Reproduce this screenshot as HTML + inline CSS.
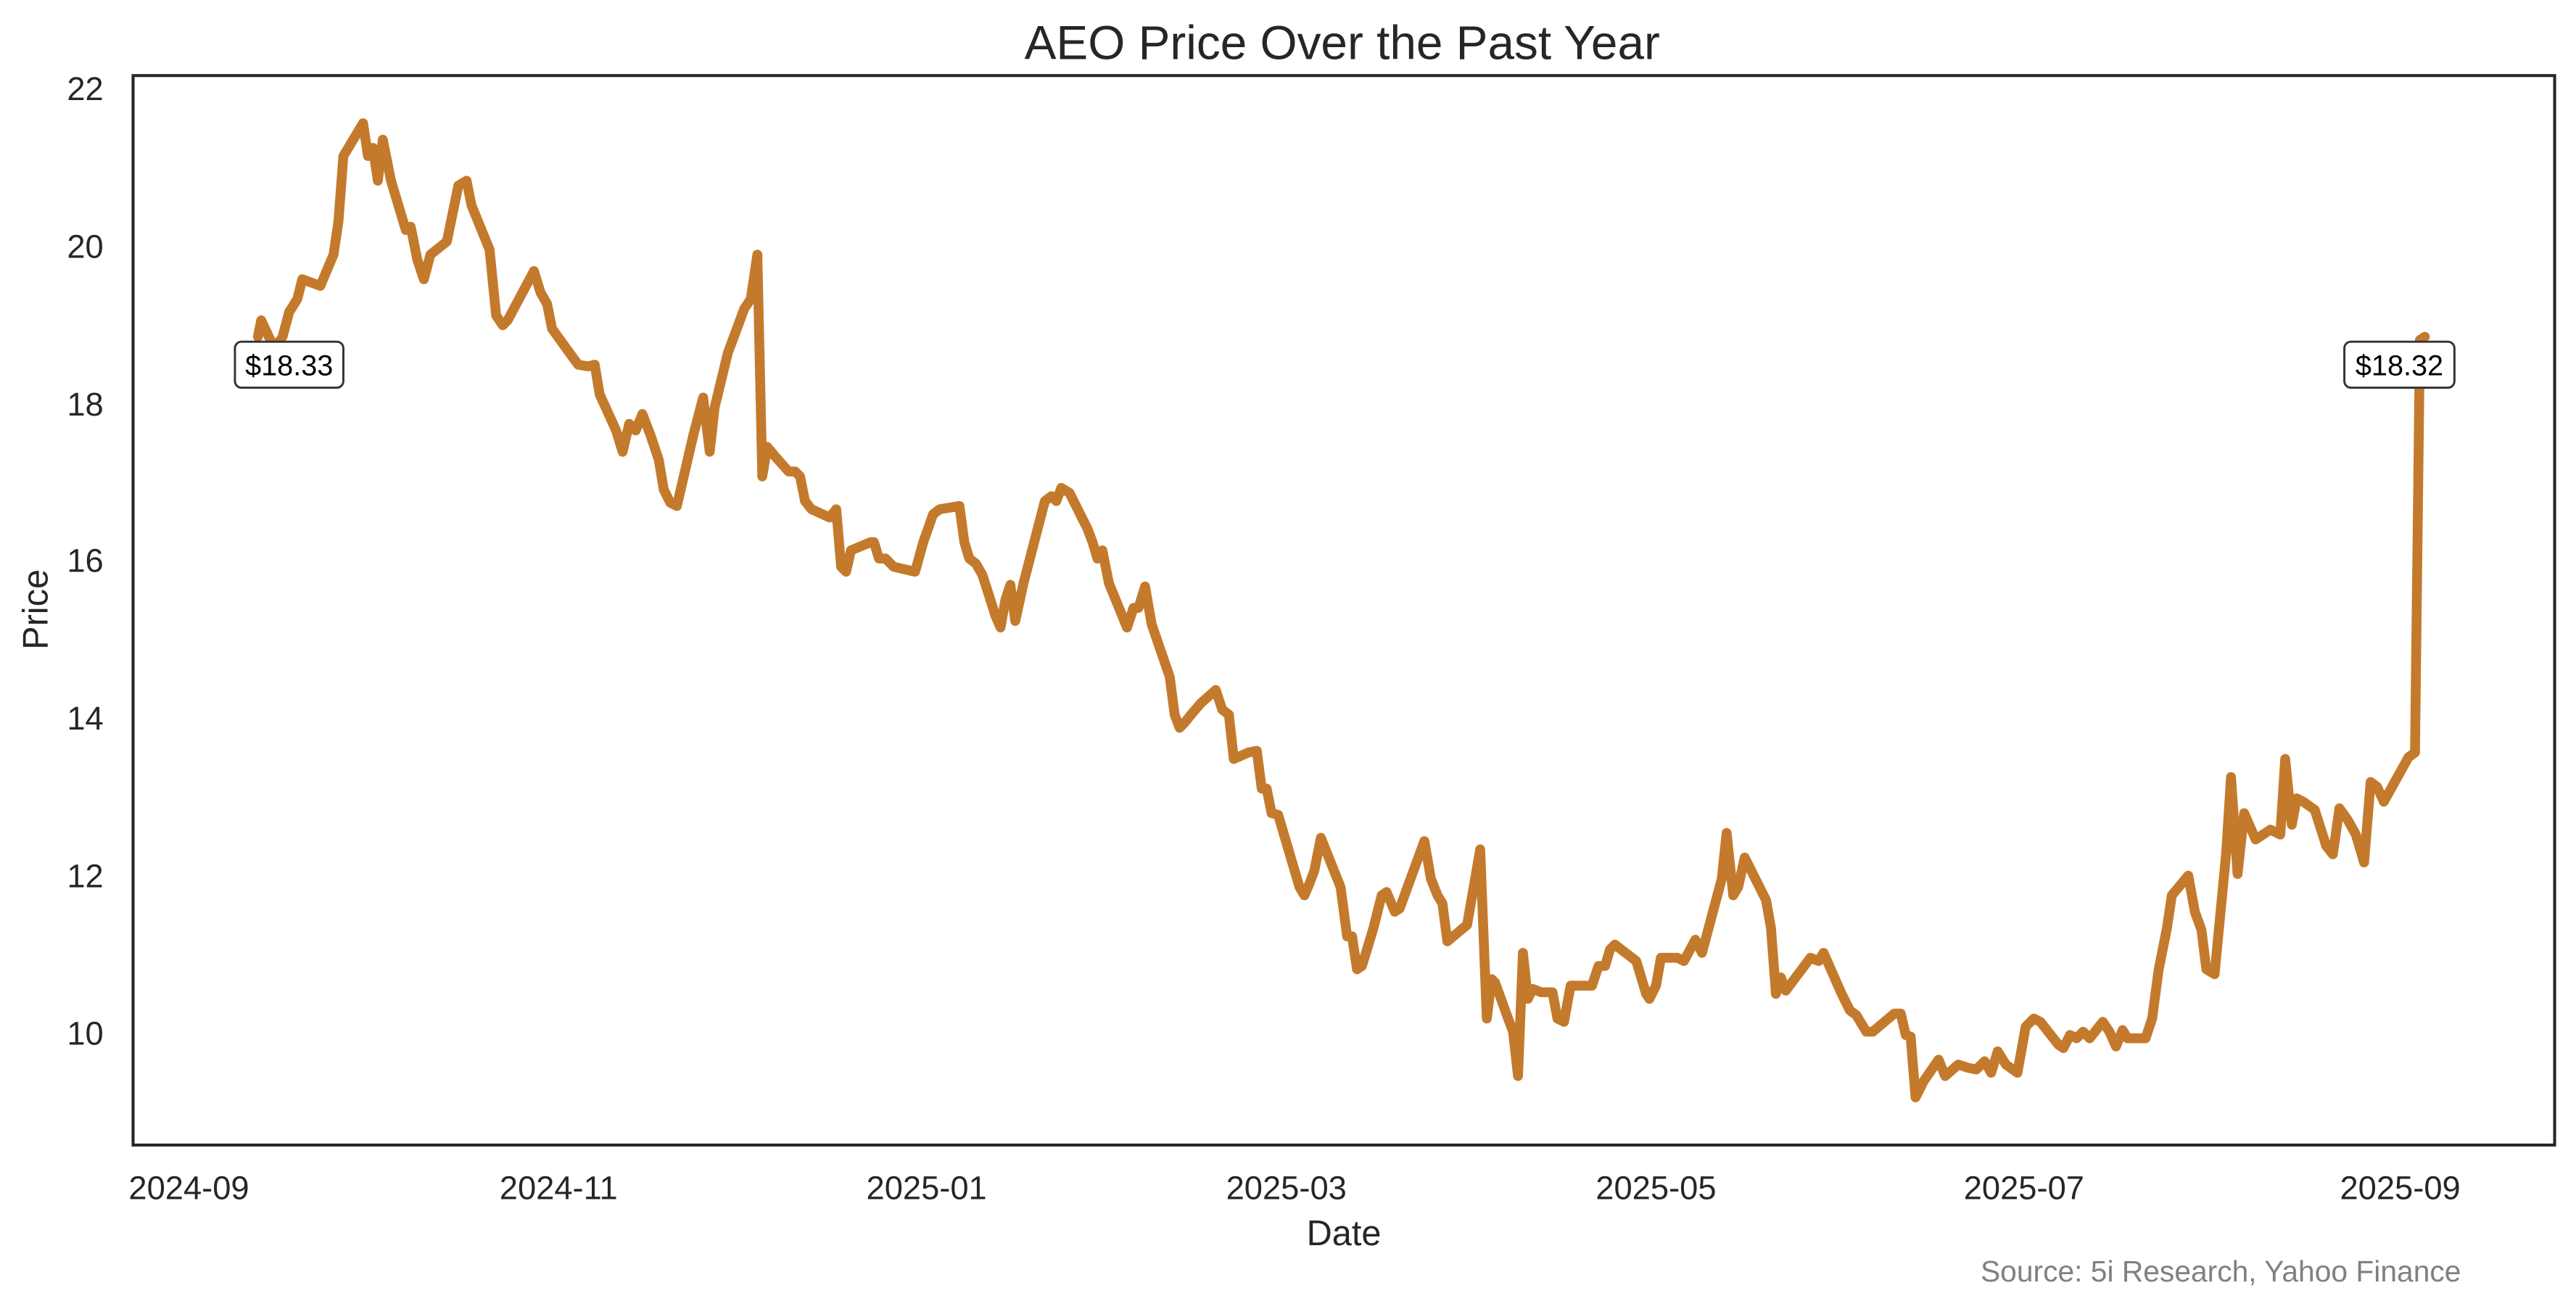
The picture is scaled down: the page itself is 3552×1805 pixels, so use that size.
<!DOCTYPE html>
<html><head><meta charset="utf-8"><style>
html,body{margin:0;padding:0;background:#fff;}
svg{display:block;}
text{font-family:"Liberation Sans",Arial,sans-serif;}
</style></head><body>
<svg width="3552" height="1805" viewBox="0 0 1568 796.8" xmlns="http://www.w3.org/2000/svg">
<rect width="1568" height="797" fill="#fff"/>
<text x="817" y="36" font-size="29" text-anchor="middle" fill="#262626">AEO Price Over the Past Year</text>
<g font-size="20" fill="#262626" text-anchor="end">
<text x="63" y="636">10</text>
<text x="63" y="540">12</text>
<text x="63" y="444">14</text>
<text x="63" y="348">16</text>
<text x="63" y="253">18</text>
<text x="63" y="157">20</text>
<text x="63" y="61">22</text>
</g>
<g font-size="20" fill="#262626" text-anchor="middle">
<text x="115" y="730">2024-09</text>
<text x="340" y="730">2024-11</text>
<text x="564" y="730">2025-01</text>
<text x="783" y="730">2025-03</text>
<text x="1008" y="730">2025-05</text>
<text x="1232" y="730">2025-07</text>
<text x="1461" y="730">2025-09</text>
</g>
<text x="818" y="758" font-size="21.5" text-anchor="middle" fill="#262626">Date</text>
<text x="29" y="371" font-size="21.5" text-anchor="middle" fill="#262626" transform="rotate(-90 29 371)">Price</text>
<text x="1498" y="780" font-size="18" text-anchor="end" fill="#808080">Source: 5i Research, Yahoo Finance</text>
<polyline fill="none" stroke="#c47a2c" stroke-width="6" stroke-linejoin="round" stroke-linecap="round" points="157,205 159,195 166,210 170,208 172,205 176,190 181,182 184,170 195,174 203,155 206,135 209,95 221,75 224,95 227,90 230,110 233,85 238,110 247,140 250,138 254,158 258,170 262,155 272,147 279,113 284,110 287,125 298,152 302,192 306,198 309,195 325,165 329,178 333,185 336,200 349,218 352,222 358,223 362,222 365,240 375,262 379,275 383,258 387,262 391,252 396,265 401,280 404,298 408,306 412,308 422,265 428,242 432,275 435,248 443,215 453,188 457,182 461,155 464,290 467,272 472,278 480,287 484,287 487,290 490,305 494,310 505,315 509,310 512,345 515,348 518,335 530,330 532,330 535,340 539,340 544,345 557,348 562,330 568,313 572,310 584,308 587,330 590,340 594,343 598,350 606,375 609,382 612,365 615,356 618,378 623,355 636,305 640,302 643,305 646,297 651,300 662,322 665,330 668,340 671,335 675,355 686,382 690,370 693,370 697,357 701,380 712,412 715,435 718,443 721,440 725,435 731,428 740,420 744,432 748,435 751,462 760,458 765,457 768,480 771,480 774,495 778,496 791,540 794,545 797,538 800,530 804,510 816,540 820,570 823,570 826,590 829,588 836,565 841,545 844,543 849,555 852,553 856,542 867,512 871,535 875,545 878,550 881,573 893,563 897,540 901,517 905,620 908,596 910,598 918,620 921,628 924,655 927,580 930,608 933,602 938,604 945,604 948,620 952,622 956,600 960,600 969,600 973,588 977,588 980,578 983,575 996,585 1002,605 1004,608 1008,600 1011,583 1021,583 1025,585 1032,572 1036,580 1048,535 1051,507 1055,545 1058,540 1062,522 1075,548 1078,565 1081,605 1084,595 1087,603 1102,583 1107,585 1110,580 1121,605 1126,615 1130,618 1136,628 1140,628 1153,617 1157,617 1160,630 1163,631 1166,668 1171,658 1180,645 1184,655 1192,648 1198,650 1203,651 1208,646 1212,653 1216,640 1221,648 1228,653 1233,625 1238,620 1242,622 1253,636 1256,638 1260,630 1264,632 1268,628 1272,632 1280,622 1284,628 1288,637 1292,627 1295,632 1300,632 1306,632 1310,620 1314,590 1319,565 1322,545 1332,533 1336,555 1340,566 1343,590 1348,593 1355,520 1358,473 1362,532 1366,495 1373,511 1382,505 1388,508 1391,462 1395,502 1398,486 1402,488 1409,493 1416,515 1420,520 1424,492 1429,499 1434,508 1439,525 1443,476 1447,479 1451,488 1466,461 1470,458 1473,207 1476,205"/>
<g font-size="17.5" fill="#000" text-anchor="middle">
<rect x="143" y="208" width="66" height="28" rx="4" fill="#fff" stroke="#333" stroke-width="1.3"/>
<text x="176" y="228.5">$18.33</text>
<rect x="1427" y="208" width="67" height="28" rx="4" fill="#fff" stroke="#333" stroke-width="1.3"/>
<text x="1460.5" y="228.5">$18.32</text>
</g>
<rect x="81" y="46" width="1474" height="651" fill="none" stroke="#262626" stroke-width="1.8"/>
</svg>
</body></html>
